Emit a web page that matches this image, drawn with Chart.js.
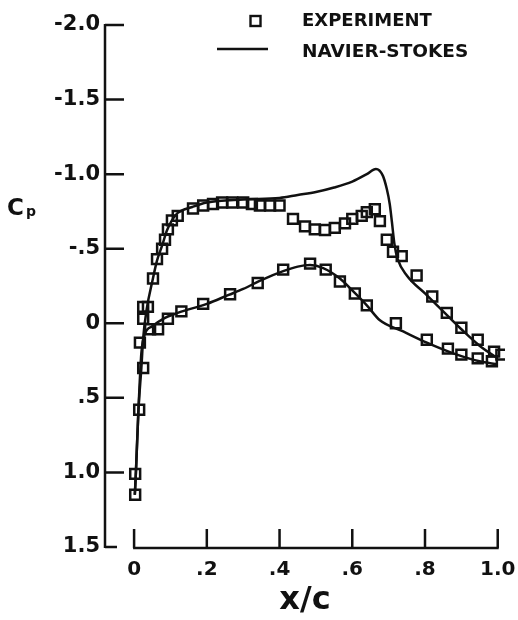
<!DOCTYPE html>
<html>
<head>
<meta charset="utf-8">
<script src="https://cdn.jsdelivr.net/npm/chart.js@4.4.1/dist/chart.umd.min.js"></script>
<style>
  html, body { margin: 0; padding: 0; background: #fff; }
  #wrap { width: 518px; height: 620px; position: relative; }
</style>
</head>
<body>
<div id="wrap"><canvas id="cpChart"></canvas></div>
<script>
// Pressure coefficient along the chord: wind tunnel points vs. Navier-Stokes solution

// measured points, upper surface (incl. stagnation region)
const expUpperX = [0.003, 0.003, 0.014, 0.025, 0.016, 0.025, 0.025, 0.038, 0.052, 0.063, 0.077, 0.085,
  0.093, 0.104, 0.12, 0.162, 0.19, 0.217, 0.242, 0.27, 0.30, 0.324, 0.346, 0.374, 0.40,
  0.437, 0.47, 0.497, 0.525, 0.552, 0.58, 0.60, 0.626, 0.64, 0.662, 0.676,
  0.695, 0.712, 0.736, 0.777, 0.82, 0.86, 0.90, 0.945, 0.99, 1.01];
const expUpperCp = [1.15, 1.01, 0.58, 0.30, 0.13, -0.03, -0.11, -0.11, -0.30, -0.43, -0.50, -0.56,
  -0.63, -0.69, -0.72, -0.77, -0.79, -0.80, -0.81, -0.81, -0.81, -0.80, -0.79, -0.79, -0.79,
  -0.70, -0.65, -0.63, -0.625, -0.64, -0.67, -0.70, -0.72, -0.745, -0.765, -0.685,
  -0.56, -0.48, -0.45, -0.32, -0.18, -0.07, 0.03, 0.11, 0.19, 0.21];

// measured points, lower surface
const expLowerX = [0.044, 0.066, 0.093, 0.13, 0.19, 0.264, 0.34, 0.41, 0.484, 0.527, 0.566, 0.607,
  0.64, 0.72, 0.805, 0.863, 0.90, 0.945, 0.984];
const expLowerCp = [0.04, 0.04, -0.03, -0.08, -0.13, -0.195, -0.27, -0.36, -0.40, -0.36, -0.28, -0.20,
  -0.12, 0.0, 0.11, 0.17, 0.21, 0.235, 0.255];

// Navier-Stokes, upper surface
const nsUpperX = [0.002, 0.005, 0.012, 0.02, 0.025, 0.035, 0.05, 0.063, 0.077, 0.09, 0.104, 0.12,
  0.16, 0.2, 0.3, 0.4, 0.45, 0.5, 0.55, 0.6, 0.64, 0.665, 0.684, 0.695, 0.703, 0.709, 0.716,
  0.725, 0.75, 0.8, 0.85, 0.9, 0.95, 1.0];
const nsUpperCp = [1.15, 1.0, 0.58, 0.3, 0.1, -0.1, -0.28, -0.42, -0.52, -0.62, -0.69, -0.74,
  -0.78, -0.81, -0.83, -0.84, -0.86, -0.88, -0.91, -0.95, -1.0, -1.035, -0.99, -0.9, -0.8, -0.68,
  -0.53, -0.43, -0.32, -0.2, -0.08, 0.04, 0.15, 0.235];

// Navier-Stokes, lower surface
const nsLowerX = [0.002, 0.005, 0.012, 0.02, 0.03, 0.05, 0.08, 0.12, 0.2, 0.26, 0.3, 0.35, 0.41,
  0.45, 0.484, 0.52, 0.566, 0.6, 0.64, 0.676, 0.74, 0.805, 0.876, 0.95, 1.0];
const nsLowerCp = [1.15, 1.0, 0.58, 0.2, 0.07, 0.02, -0.03, -0.07, -0.13, -0.19, -0.23, -0.29, -0.35,
  -0.38, -0.39, -0.37, -0.30, -0.22, -0.12, -0.02, 0.055, 0.13, 0.2, 0.255, 0.275];

// axis ticks
const xTickValues = [0, 0.2, 0.4, 0.6, 0.8, 1.0];
const xTickLabels = ['0', '.2', '.4', '.6', '.8', '1.0'];
const yTickValues = [-2.0, -1.5, -1.0, -0.5, 0, 0.5, 1.0, 1.5];
const yTickLabels = ['-2.0', '-1.5', '-1.0', '-.5', '0', '.5', '1.0', '1.5'];

const INK = '#111';
const FONT = 'DejaVu Sans';

function toPoints(xs, ys) {
  return xs.map((x, i) => ({ x: x, y: ys[i] }));
}

// axis lines with inward ticks, x axis detached from the y axis
const axesPlugin = {
  id: 'axesPlugin',
  afterDraw(chart) {
    const ctx = chart.ctx;
    const xs = chart.scales.x;
    const ys = chart.scales.y;
    const area = chart.chartArea;
    ctx.save();
    ctx.strokeStyle = INK;
    ctx.lineWidth = 2.5;
    ctx.lineCap = 'butt';

    // y axis
    const yTop = ys.getPixelForValue(yTickValues[0]);
    const yBot = ys.getPixelForValue(yTickValues[yTickValues.length - 1]);
    ctx.beginPath();
    ctx.moveTo(area.left, yTop - 1);
    ctx.lineTo(area.left, yBot + 1);
    yTickValues.forEach((v, i) => {
      const py = ys.getPixelForValue(v);
      const len = i === yTickValues.length - 1 ? 12 : 19;
      ctx.moveTo(area.left, py);
      ctx.lineTo(area.left + len, py);
    });
    ctx.stroke();

    // x axis
    const x0 = xs.getPixelForValue(xTickValues[0]);
    const x1 = xs.getPixelForValue(xTickValues[xTickValues.length - 1]);
    const base = area.bottom + 1;
    ctx.beginPath();
    ctx.moveTo(x0 - 1, base);
    ctx.lineTo(x1 + 1, base);
    xTickValues.forEach(v => {
      const px = xs.getPixelForValue(v);
      ctx.moveTo(px, base);
      ctx.lineTo(px, base - 19);
    });
    ctx.stroke();

    // Cp label
    const cy = ys.getPixelForValue(-0.78);
    ctx.fillStyle = INK;
    ctx.textBaseline = 'alphabetic';
    ctx.textAlign = 'left';
    ctx.font = 'bold 23px "' + FONT + '"';
    ctx.fillText('C', 7, cy + 8);
    ctx.font = 'bold 14px "' + FONT + '"';
    ctx.fillText('p', 26, cy + 9);

    // legend
    const sets = chart.data.datasets;
    const lx = area.left + 112;
    const tx = area.left + 197;
    ctx.font = 'bold 18px "' + FONT + '"';
    ctx.textBaseline = 'middle';
    ctx.lineWidth = 2.4;
    ctx.strokeRect(lx + 33.5, 16, 10, 10);
    ctx.fillText(sets[0].label, tx, 21);
    ctx.lineWidth = 2.5;
    ctx.beginPath();
    ctx.moveTo(lx, 49);
    ctx.lineTo(lx + 51, 49);
    ctx.stroke();
    ctx.font = 'bold 18.5px "' + FONT + '"';
    ctx.fillText(sets[2].label, tx, 52);
    ctx.restore();
  }
};

const squareStyle = {
  showLine: false,
  pointStyle: 'rect',
  pointRadius: 7,
  borderWidth: 2.5,
  borderColor: INK,
  backgroundColor: 'rgba(255,255,255,0)'
};

const lineStyle = {
  showLine: true,
  pointRadius: 0,
  borderWidth: 2.5,
  borderColor: INK,
  cubicInterpolationMode: 'monotone'
};

new Chart(document.getElementById('cpChart'), {
  type: 'scatter',
  data: {
    datasets: [
      Object.assign({ label: 'EXPERIMENT', data: toPoints(expUpperX, expUpperCp) }, squareStyle),
      Object.assign({ label: 'EXPERIMENT', data: toPoints(expLowerX, expLowerCp) }, squareStyle),
      Object.assign({ label: 'NAVIER-STOKES', data: toPoints(nsUpperX, nsUpperCp) }, lineStyle),
      Object.assign({ label: 'NAVIER-STOKES', data: toPoints(nsLowerX, nsLowerCp) }, lineStyle)
    ]
  },
  options: {
    responsive: true,
    maintainAspectRatio: false,
    animation: false,
    layout: { padding: { top: 25, right: 13, left: 0, bottom: 0 } },
    plugins: {
      legend: { display: false },
      tooltip: { enabled: false }
    },
    scales: {
      x: {
        type: 'linear',
        min: -0.08,
        max: 1.02,
        grid: { display: false, drawTicks: false, tickLength: 0 },
        border: { display: false },
        afterBuildTicks: scale => { scale.ticks = xTickValues.map(v => ({ value: v })); },
        afterFit: scale => { scale.height = 73; scale.paddingLeft = 0; scale.paddingRight = 0; },
        ticks: {
          color: INK,
          padding: 11,
          maxRotation: 0,
          font: { family: FONT, size: 20, weight: 'bold' },
          callback: v => xTickLabels[xTickValues.indexOf(v)]
        },
        title: {
          display: true,
          text: 'x/c',
          color: INK,
          padding: { top: 0, bottom: 0 },
          font: { family: FONT, size: 32, weight: 'bold' }
        }
      },
      y: {
        type: 'linear',
        reverse: true,
        min: -2.0,
        max: 1.5,
        grid: { display: false, drawTicks: false, tickLength: 0 },
        border: { display: false },
        afterBuildTicks: scale => { scale.ticks = yTickValues.map(v => ({ value: v })); },
        afterFit: scale => { scale.width = 105; scale.paddingTop = 0; scale.paddingBottom = 0; },
        ticks: {
          color: INK,
          padding: 5,
          font: { family: FONT, size: 21, weight: 'bold' },
          callback: v => yTickLabels[yTickValues.indexOf(v)]
        }
      }
    }
  },
  plugins: [axesPlugin]
});
</script>
</body>
</html>
